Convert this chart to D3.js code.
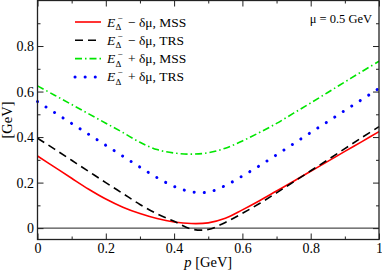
<!DOCTYPE html>
<html>
<head>
<meta charset="utf-8">
<script src="https://cdn.jsdelivr.net/npm/d3@7"></script>
<style>
  body { margin: 0; background: #fff; }
  svg { font-family: "Liberation Serif", "Times New Roman", serif; }
</style>
</head>
<body>
<div id="chart"></div>
<script>
// momentum p [GeV]
const pValues = [0, 0.05, 0.1, 0.15, 0.2, 0.25, 0.3, 0.35, 0.4, 0.45, 0.5,
                 0.55, 0.6, 0.65, 0.7, 0.75, 0.8, 0.85, 0.9, 0.95, 1.0];

// E_Delta^- - dmu, MSS (red solid)
const mssMinus = [0.317, 0.268, 0.219, 0.171, 0.128, 0.092, 0.064, 0.042, 0.027, 0.02, 0.023,
                  0.043, 0.08, 0.12, 0.163, 0.206, 0.25, 0.293, 0.337, 0.38, 0.424];
// E_Delta^- - dmu, TRS (black dashed)
const trsMinus = [0.395, 0.347, 0.298, 0.249, 0.2, 0.152, 0.104, 0.063, 0.03, -0.004, -0.006,
                  0.025, 0.065, 0.108, 0.155, 0.203, 0.252, 0.3, 0.349, 0.398, 0.446];
// E_Delta^- + dmu, MSS (green dash-dot)
const mssPlus = [0.625, 0.584, 0.543, 0.502, 0.461, 0.42, 0.377, 0.345, 0.33, 0.325, 0.331,
                 0.351, 0.383, 0.42, 0.46, 0.505, 0.55, 0.596, 0.642, 0.688, 0.733];
// E_Delta^- + dmu, TRS (blue dotted)
const trsPlus = [0.556, 0.508, 0.46, 0.412, 0.364, 0.316, 0.268, 0.222, 0.183, 0.16, 0.158,
                 0.187, 0.229, 0.274, 0.322, 0.371, 0.42, 0.468, 0.517, 0.565, 0.614];

const legendSigns = ["\u2212", "\u2212", "+", "+"];
const legendSchemes = ["MSS", "TRS", "MSS", "TRS"];

const xMajor = [0, 0.2, 0.4, 0.6, 0.8, 1];
const xMinor = [0.1, 0.3, 0.5, 0.7, 0.9];
const yMajor = [0, 0.2, 0.4, 0.6, 0.8];
const yMinor = [0.1, 0.3, 0.5, 0.7, 0.9];

const width = 382, height = 271;
const plotLeft = 37.5, plotRight = 379, plotTop = 0.5, plotBottom = 239.5;

const svg = d3.select("#chart").append("svg")
  .attr("width", width)
  .attr("height", height);

const x = d3.scaleLinear().domain([0, 1]).range([plotLeft, plotRight]);
const y = d3.scaleLinear().domain([-0.05, 1.0]).range([plotBottom, plotTop]);

const fmt = d => d === 0 ? "0" : d === 1 ? "1" : d3.format(".1f")(d);

// axes with inward ticks on all four sides
function addAxis(axisFn, scale, ticks, size, tr, labels) {
  const a = axisFn(scale).tickValues(ticks).tickSize(-size).tickPadding(3.5)
    .tickFormat(labels ? fmt : "");
  const g = svg.append("g").attr("transform", tr).call(a);
  g.select(".domain").remove();
  g.selectAll("line").attr("stroke", "#222").attr("stroke-width", 1);
  g.selectAll("text").attr("font-size", 14).attr("fill", "#000")
    .attr("font-family", "Liberation Serif, serif");
  return g;
}
addAxis(d3.axisBottom, x, xMajor, 6, `translate(0,${plotBottom})`, true);
addAxis(d3.axisBottom, x, xMinor, 3, `translate(0,${plotBottom})`, false);
addAxis(d3.axisTop, x, xMajor, 6, `translate(0,${plotTop})`, false);
addAxis(d3.axisTop, x, xMinor, 3, `translate(0,${plotTop})`, false);
addAxis(d3.axisLeft, y, yMajor, 6, `translate(${plotLeft},0)`, true);
addAxis(d3.axisLeft, y, yMinor, 3, `translate(${plotLeft},0)`, false);
addAxis(d3.axisRight, y, yMajor, 6, `translate(${plotRight},0)`, false);
addAxis(d3.axisRight, y, yMinor, 3, `translate(${plotRight},0)`, false);

// zero line
svg.append("line")
  .attr("x1", plotLeft).attr("x2", plotRight)
  .attr("y1", y(0)).attr("y2", y(0))
  .attr("stroke", "#222").attr("stroke-width", 1);

const series = [
  { values: mssMinus, color: "#ff0000", dash: null, width: 1.6 },
  { values: trsMinus, color: "#000000", dash: "8,5", width: 1.6 },
  { values: mssPlus, color: "#00e600", dash: "7,3,1.5,3", width: 1.6 },
  { values: trsPlus, color: "#0000ff", dash: "0.1,10", width: 3 }
];

const line = d3.line()
  .x(d => x(d[0]))
  .y(d => y(d[1]))
  .curve(d3.curveCatmullRom);

series.forEach(s => {
  svg.append("path")
    .datum(pValues.map((p, i) => [p, s.values[i]]))
    .attr("fill", "none")
    .attr("stroke", s.color)
    .attr("stroke-width", s.width)
    .attr("stroke-dasharray", s.dash)
    .attr("stroke-linecap", s.dash === "0.1,10" ? "round" : "butt")
    .attr("d", line);
});

// frame
svg.append("rect")
  .attr("x", plotLeft).attr("y", plotTop)
  .attr("width", plotRight - plotLeft).attr("height", plotBottom - plotTop)
  .attr("fill", "none").attr("stroke", "#222").attr("stroke-width", 1.3);

// legend
const legend = svg.append("g");
series.forEach((s, i) => {
  const ly = 22 + i * 18.3;
  legend.append("line")
    .attr("x1", 75).attr("x2", 101)
    .attr("y1", ly).attr("y2", ly)
    .attr("stroke", s.color)
    .attr("stroke-width", s.width)
    .attr("stroke-dasharray", s.dash)
    .attr("stroke-linecap", s.dash === "0.1,10" ? "round" : "butt");
  const base = ly + 4.5;
  legend.append("text").attr("x", 107).attr("y", base)
    .attr("font-size", 13.5).attr("font-style", "italic").text("E");
  legend.append("text").attr("x", 115.5).attr("y", base + 3.5)
    .attr("font-size", 9).text("\u0394");
  legend.append("text").attr("x", 117.5).attr("y", base - 6)
    .attr("font-size", 9).text("\u2212");
  legend.append("text").attr("x", 128).attr("y", base)
    .attr("font-size", 13.5)
    .text(`${legendSigns[i]} \u03b4\u03bc, ${legendSchemes[i]}`);
});

// annotation
svg.append("text")
  .attr("x", 372).attr("y", 22.5)
  .attr("text-anchor", "end")
  .attr("font-size", 12.5)
  .text("\u03bc = 0.5 GeV");

// axis titles
const xt = svg.append("text")
  .attr("x", (plotLeft + plotRight) / 2).attr("y", 266.5)
  .attr("text-anchor", "middle").attr("font-size", 14.5);
xt.append("tspan").attr("font-style", "italic").text("p");
xt.append("tspan").text(" [GeV]");

svg.append("text")
  .attr("transform", `translate(12,${(plotTop + plotBottom) / 2}) rotate(-90)`)
  .attr("text-anchor", "middle").attr("font-size", 14.5)
  .text("[GeV]");
</script>
</body>
</html>
